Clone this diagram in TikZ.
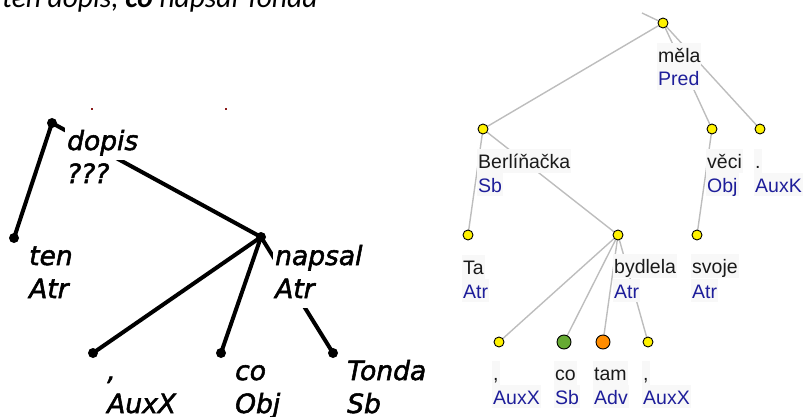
\documentclass[tikz,border=0pt]{standalone}
\usepackage{fontspec}
\setmainfont{Liberation Sans}
\newfontfamily\lfont[ItalicFeatures={FakeBold=2}]{DejaVu Sans}
\newfontfamily\tfont{Carlito}
\definecolor{predblue}{HTML}{1E1E9A}
\definecolor{txtc}{HTML}{1A1A1A}
\definecolor{edgegray}{HTML}{BDBDBD}
\definecolor{labfill}{HTML}{F8F8F8}
\definecolor{cogreen}{HTML}{66AA33}
\definecolor{tamorange}{HTML}{FF8C00}
\definecolor{specred}{HTML}{8B1A1A}
\pgfdeclarelayer{bg}
\pgfsetlayers{bg,main}
\tikzset{
  bdot/.style={circle,fill=black,inner sep=0pt,minimum size=10pt},
  bedge/.style={line width=4pt,line cap=round},
  blab/.style={anchor=base west,align=left,inner sep=0pt,
    font=\lfont\itshape\fontsize{26.5}{33}\selectfont},
  ydot/.style={circle,draw=black,line width=0.9pt,fill=yellow,inner sep=0pt,minimum size=10pt},
  bigdot/.style={ydot,minimum size=14pt},
  gedge/.style={draw=edgegray,line width=1.4pt},
  rlab/.style={anchor=base west,align=left,inner sep=0pt,text=txtc,
    font=\fontsize{19.5}{23.5}\selectfont},
}
\newcommand{\fn}[1]{\textcolor{predblue}{#1}}
% one white box per text line (covers the connectors behind it)
\newcommand{\lbx}[1]{{\setlength{\fboxsep}{0pt}\colorbox{white}{\rule[-10pt]{0pt}{33pt}\kern2pt#1\kern1pt}}}
\newcommand{\rbx}[1]{{\setlength{\fboxsep}{0pt}\colorbox{labfill}{\rule[-4pt]{0pt}{23.5pt}\kern1pt#1\kern1pt}}}
\begin{document}
\begin{tikzpicture}[x=1pt,y=-1pt]
\clip (0,0) rectangle (803,417);
\useasboundingbox (0,0) rectangle (803,417);
% title line, cut at the top
\node[anchor=base west,inner sep=0pt,font=\tfont\itshape\fontsize{29.5}{33}\selectfont] (title) at (2,8) {ten dopis, \textbf{co} napsal Tonda};
% specks
\fill[specred] (91,108) rectangle (93,110);
\fill[specred] (225,108) rectangle (227,110);
% ---------- left tree ----------
\node[bdot] (dopis) at (52,123) {};
\node[bdot] (ten) at (14,238) {};
\node[bdot] (napsal) at (261,237) {};
\node[bdot] (auxx) at (93,353) {};
\node[bdot] (co) at (221,353) {};
\node[bdot] (tonda) at (333,353) {};
\begin{pgfonlayer}{bg}
\draw[bedge] (dopis.center) -- (ten.center);
\draw[bedge] (dopis.center) -- (napsal.center);
\draw[bedge] (napsal.center) -- (auxx.center);
\draw[bedge] (napsal.center) -- (co.center);
\draw[bedge] (napsal.center) -- (tonda.center);
\end{pgfonlayer}
% base anchor = baseline of the last line
\node[blab] (dopisL) at (65,183) {\lbx{dopis}\\\lbx{???}};
\node[blab] (tenL) at (27,298) {\lbx{ten}\\\lbx{Atr}};
\node[blab] (napsalL) at (273,298) {\lbx{napsal}\\\lbx{Atr}};
\node[blab] (auxxL) at (105,413) {\lbx{,}\\\lbx{AuxX}};
\node[blab] (coL) at (233,413) {\lbx{co}\\\lbx{Obj}};
\node[blab] (tondaL) at (345,413) {\lbx{Tonda}\\\lbx{Sb}};
% ---------- right tree ----------
\coordinate (rootend) at (642,13);
\node[ydot] (mela) at (663,23) {};
\node[ydot] (berl) at (483,129) {};
\node[ydot] (veci) at (712,129) {};
\node[ydot] (auxk) at (760,129) {};
\node[ydot] (ta) at (468,235) {};
\node[ydot] (bydl) at (618,235) {};
\node[ydot] (svoje) at (697,235) {};
\node[ydot] (c1) at (499,342) {};
\node[bigdot,fill=cogreen] (co2) at (564,342) {};
\node[bigdot,fill=tamorange] (tam) at (603,342) {};
\node[ydot] (c2) at (648,342) {};
\begin{pgfonlayer}{bg}
\draw[gedge] (rootend) -- (mela.center);
\draw[gedge] (mela.center) -- (berl.center);
\draw[gedge] (mela.center) -- (veci.center);
\draw[gedge] (mela.center) -- (auxk.center);
\draw[gedge] (berl.center) -- (ta.center);
\draw[gedge] (berl.center) -- (bydl.center);
\draw[gedge] (veci.center) -- (svoje.center);
\draw[gedge] (bydl.center) -- (c1.center);
\draw[gedge] (bydl.center) -- (co2.center);
\draw[gedge] (bydl.center) -- (tam.center);
\draw[gedge] (bydl.center) -- (c2.center);
\end{pgfonlayer}
\node[rlab] (melaL) at (657,86) {\rbx{měla}\\\rbx{\fn{Pred}}};
\node[rlab] (berlL) at (477,192) {\rbx{Berlíňačka}\\\rbx{\fn{Sb}}};
\node[rlab] (veciL) at (706,192) {\rbx{věci}\\\rbx{\fn{Obj}}};
\node[rlab] (auxkL) at (754,192) {\rbx{.}\\\rbx{\fn{AuxK}}};
\node[rlab] (taL) at (462,298) {\rbx{Ta}\\\rbx{\fn{Atr}}};
\node[rlab] (bydlL) at (613,298) {\rbx{bydlela}\\\rbx{\fn{Atr}}};
\node[rlab] (svojeL) at (691,298) {\rbx{svoje}\\\rbx{\fn{Atr}}};
\node[rlab] (c1L) at (492,404) {\rbx{,}\\\rbx{\fn{AuxX}}};
\node[rlab] (co2L) at (554,404) {\rbx{co}\\\rbx{\fn{Sb}}};
\node[rlab] (tamL) at (593,404) {\rbx{tam}\\\rbx{\fn{Adv}}};
\node[rlab] (c2L) at (642,404) {\rbx{,}\\\rbx{\fn{AuxX}}};
\end{tikzpicture}
\end{document}
